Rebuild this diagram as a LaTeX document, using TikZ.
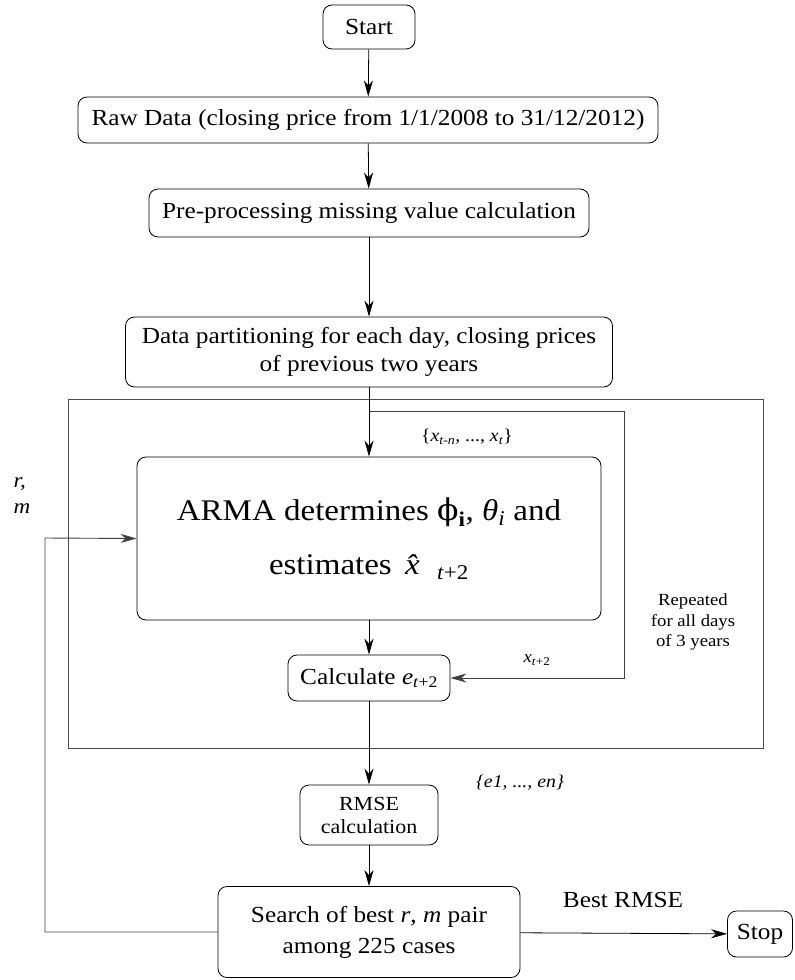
\documentclass[tikz,border=0pt]{standalone}
\usepackage{fontspec}
\setmainfont{Liberation Serif}[FakeStretch=1.1]
\newfontfamily\phifont{DejaVu Serif}[FakeStretch=1.05]
\usetikzlibrary{arrows.meta}

\tikzset{
  stepbox/.style={draw, rounded corners=9pt, align=center, inner sep=2pt,
    font=\fontsize{23}{27.5}\selectfont},
  flow/.style={-{Stealth[length=16pt,width=9pt,inset=5pt]}},
  note/.style={align=center, inner sep=0pt},
}

\begin{document}
\begin{tikzpicture}[x=1pt, y=-1pt, line width=0.8pt]
        \useasboundingbox (0,0) rectangle (795,980);

        \node[stepbox, minimum width=92pt, minimum height=44pt] (start) at (369,27) {Start};
        \node[stepbox, minimum width=580pt, minimum height=46pt] (raw) at (368,120)
          {Raw Data (closing price from 1/1/2008 to 31/12/2012)};
        \node[stepbox, minimum width=440pt, minimum height=48pt] (pre) at (369,213)
          {Pre-processing missing value calculation};
        \node[stepbox, minimum width=487pt, minimum height=70pt] (part) at (369,352)
          {Data partitioning for each day, closing prices\\of previous two years};

        % loop over all days
        \node[draw=black!70, line width=0.9pt, minimum width=695pt, minimum height=349pt,
          inner sep=0pt] (repeat) at (415.5,573.5) {};
        \node[stepbox, minimum width=464pt, minimum height=163pt,
          font=\fontsize{30}{54}\selectfont] (arma) at (369,538.5)
          {ARMA determines {\phifont ϕ}\textsubscript{\textbf{i}}, \textit{θ}\textsubscript{\textit{i}} and\\
           estimates \,\textit{\^x}\,\textsubscript{\textit{t}+2}};
        \node[stepbox, minimum width=162pt, minimum height=46pt] (calc) at (369,678)
          {Calculate \textit{e}\textsubscript{\textit{t}+2}};
        \node[stepbox, minimum width=138pt, minimum height=60pt,
          font=\fontsize{20}{23}\selectfont] (rmse) at (369,815) {RMSE\\calculation};
        \node[stepbox, minimum width=302pt, minimum height=91pt,
          font=\fontsize{23}{31}\selectfont] (search) at (369,932)
          {Search of best \textit{r}, \textit{m} pair\\among 225 cases};
        \node[stepbox, minimum width=65pt, minimum height=46pt] (stop) at (760,934) {Stop};

        % labels
        \node[note, font=\fontsize{18}{18}\selectfont] (xin) at (467,437)
          {\{\textit{x}\textsubscript{\textit{t-n}}, ..., \textit{x}\textsubscript{\textit{t}}\}};
        \node[note, font=\fontsize{17}{18}\selectfont] (xnext) at (537,660)
          {\textit{x}\textsubscript{\textit{t}+2}};
        \node[note, font=\fontsize{17}{20.5}\selectfont] (rep) at (693,622)
          {Repeated\\for all days\\of 3 years};
        \node[note, align=left, font=\fontsize{21}{26}\selectfont\itshape] (rm) at (22,496)
          {r,\\m};
        \node[note, font=\fontsize{18}{20}\selectfont\itshape] (errs) at (520,783)
          {\{e1, ..., en\}};
        \node[note, font=\fontsize{23}{24}\selectfont] (best) at (623,900) {Best RMSE};

        \coordinate (split) at (369,411);
        \coordinate (loopright) at (624,411);
        \coordinate (back) at (45,538);

        \draw[flow] (start) -- (raw);
        \draw[flow] (raw) -- (pre);
        \draw[flow] (pre) -- (part);
        \draw[flow] (part) -- (arma);
        \draw[flow, draw=black!75, line width=0.9pt] (split) -- (loopright) |- (calc.east);
        \draw[flow] (arma) -- (calc);
        \draw[flow] (calc) -- (rmse);
        \draw[flow] (rmse) -- (search);
        \draw[flow] (search) -- (stop);
        \draw[flow, draw=black!75, line width=0.9pt] (search.west) -| (back) -- (arma.west);
      \end{tikzpicture}
\end{document}
